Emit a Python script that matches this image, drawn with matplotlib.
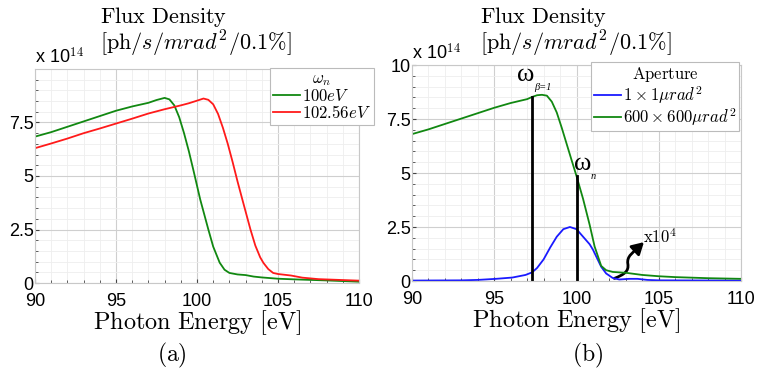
import numpy as np
import matplotlib
matplotlib.use("Agg")
import matplotlib.pyplot as plt
from matplotlib.path import Path
from matplotlib.patches import FancyArrowPatch

plt.rcParams['mathtext.fontset'] = 'cm'
plt.rcParams['font.family'] = ['Liberation Sans', 'DejaVu Sans']

# (a) flux density vs photon energy for two omega_n
e_100 = [90, 91, 92, 93, 94, 95, 96, 97, 97.5, 98.0, 98.3, 98.6, 98.9, 99.2, 99.5, 99.8,
         100.2, 100.45, 100.7, 101.0, 101.4, 101.7, 102.0, 102.5, 103.0, 103.5, 104, 105, 106, 108, 110]
f_100 = [6.84, 7.05, 7.3, 7.55, 7.8, 8.05, 8.25, 8.42, 8.55, 8.65, 8.58, 8.3, 7.75, 7.0, 6.15, 5.2,
         3.9, 3.2, 2.5, 1.7, 0.95, 0.62, 0.47, 0.4, 0.37, 0.3, 0.26, 0.2, 0.17, 0.12, 0.06]

e_10256 = [90, 91, 92, 93, 94, 95, 96, 97, 98, 99, 99.5, 100, 100.4, 100.7, 101.0, 101.3, 101.6,
           101.9, 102.2, 102.5, 102.8, 103.05, 103.3, 103.6, 103.9, 104.1, 104.4, 104.7, 105.0,
           105.8, 106.5, 107.5, 110]
f_10256 = [6.3, 6.52, 6.75, 7.0, 7.22, 7.45, 7.68, 7.92, 8.12, 8.3, 8.4, 8.52, 8.62, 8.56, 8.35, 7.9,
           7.25, 6.5, 5.65, 4.75, 3.9, 3.2, 2.5, 1.75, 1.2, 0.94, 0.65, 0.47, 0.42,
           0.35, 0.25, 0.18, 0.11]

# (b) two apertures
e_big = [90, 91, 92, 93, 94, 95, 96, 97, 97.3, 97.6, 97.9, 98.2, 98.5, 98.8, 99.1, 99.4, 99.7,
         100.0, 100.4, 100.8, 101.1, 101.5, 101.8, 102.2, 103, 104, 105, 106, 108, 110]
f_big = [6.8, 7.02, 7.27, 7.52, 7.77, 8.02, 8.24, 8.42, 8.52, 8.6, 8.62, 8.58, 8.3, 7.8, 7.1, 6.35, 5.6,
         4.86, 3.8, 2.6, 1.6, 0.7, 0.5, 0.42, 0.38, 0.28, 0.22, 0.18, 0.13, 0.1]

e_small = [90, 93, 94, 95.1, 96.1, 96.9, 97.3, 97.6, 98.0, 98.4, 98.8, 99.2, 99.6, 100.0, 100.4,
           100.8, 101.0, 101.5, 101.8, 102.2, 102.6, 103.2, 103.7, 104.3, 105, 110]
f_small = [0.02, 0.03, 0.05, 0.1, 0.16, 0.28, 0.4, 0.6, 1.0, 1.55, 2.05, 2.4, 2.5, 2.4, 2.05,
           1.7, 1.45, 0.66, 0.35, 0.14, 0.07, 0.1, 0.1, 0.05, 0.03, 0.02]

w_beta1 = 97.3
w_n = 100.0

W, H = 758, 378
fig = plt.figure(figsize=(W / 100, H / 100), dpi=100)


def ax_at(x0, x1, ytop, ybot):
    return fig.add_axes([x0 / W, 1 - ybot / H, (x1 - x0) / W, (ybot - ytop) / H])


def style(ax, yticks):
    ax.set_xlim(90, 110)
    ax.set_ylim(0, 10)
    ax.set_xticks([90, 95, 100, 105, 110])
    ax.set_xticks(np.arange(90, 111, 1), minor=True)
    ax.set_yticks(yticks)
    ax.set_yticklabels([f"{v:g}" for v in yticks])
    ax.set_yticks(np.arange(0, 10.01, 0.5), minor=True)
    ax.grid(which='major', color='#cfcfcf', lw=0.8)
    ax.grid(which='minor', color='#eeeeee', lw=0.6)
    ax.set_axisbelow(True)
    for s in ax.spines.values():
        s.set_color('#c8c8c8')
    ax.tick_params(which='both', direction='in', colors='#444444', labelcolor='black',
                   labelsize=13, pad=1)
    ax.tick_params(axis='x', which='major', pad=7)
    ax.tick_params(which='major', length=3)
    ax.tick_params(which='minor', length=2)
    ax.set_xlabel(r'$\mathrm{Photon\ Energy\ [eV]}$', fontsize=17.5, labelpad=-1)


def legend(handles, title, x0, ytop):
    leg = fig.legend(handles=handles, title=title, loc='upper left',
                     bbox_to_anchor=(x0 / W, 1 - ytop / H), bbox_transform=fig.transFigure,
                     fontsize=12, title_fontsize=12, handlelength=1.6, handletextpad=0.1,
                     borderpad=0.2, labelspacing=0.0, borderaxespad=0,
                     fancybox=False, framealpha=1, edgecolor='#bbbbbb')
    leg.get_frame().set_linewidth(0.8)
    return leg


ax1 = ax_at(35, 359, 69, 283)
l1, = ax1.plot(e_100, f_100, color='#118811', lw=1.3, label=r'$100eV$')
l2, = ax1.plot(e_10256, f_10256, color='#ff1a1a', lw=1.3, label=r'$102.56eV$')
style(ax1, [0, 2.5, 5, 7.5])

ax2 = ax_at(412, 741, 65, 281)
l3, = ax2.plot(e_small, f_small, color='#1a1aff', lw=1.3, label=r'$1\times1\mu rad^2$')
l4, = ax2.plot(e_big, f_big, color='#118811', lw=1.3, label=r'$600\times600\mu rad^2$')
style(ax2, [0, 2.5, 5, 7.5, 10])

legend([l1, l2], r'$\omega_n$', 270, 68)
legend([l3, l4], r'$\mathrm{Aperture}$', 591, 62)

# markers for omega_beta=1 and omega_n
ax2.plot([w_beta1, w_beta1], [0, np.interp(w_beta1, e_big, f_big)], color='black', lw=2)
ax2.plot([w_n, w_n], [0, np.interp(w_n, e_big, f_big)], color='black', lw=2)
ax2.text(96.9, 9.55, 'ω', family='Liberation Serif', fontsize=19, ha='center', va='center')
ax2.text(97.45, 8.95, 'β=1', family='Liberation Serif', style='italic', fontsize=7.5,
         ha='left', va='center')
ax2.text(100.4, 5.4, 'ω', family='Liberation Serif', fontsize=19, ha='center', va='center')
ax2.text(100.85, 4.85, 'n', family='Liberation Serif', style='italic', fontsize=7.5,
         ha='left', va='center')

# curly arrow with x10^4
verts = [(102.3, 0.12), (102.9, 0.3), (103.2, 0.45), (103.12, 0.8),
         (103.05, 1.15), (103.4, 1.3), (104.1, 1.8)]
codes = [Path.MOVETO] + [Path.CURVE4] * 6
arr = FancyArrowPatch(path=Path(verts, codes), arrowstyle='-|>,head_length=7,head_width=4',
                      color='black', lw=2, transform=ax2.transData)
ax2.add_patch(arr)
ax2.text(104.05, 2.05, r'$\mathrm{x10^4}$', fontsize=12, ha='left', va='center')

# titles and sci offsets
for x0, xax, ytop in [(100, 35, 69), (480, 412, 65)]:
    fig.text(x0 / W, 1 - 17 / H, r'$\mathrm{Flux\ Density}$', fontsize=16, ha='left', va='center')
    fig.text(x0 / W, 1 - 44 / H, r'$[\mathrm{ph}/s/mrad^2/0.1\%]$', fontsize=16, ha='left', va='center')
    fig.text(xax / W, 1 - (ytop - 2) / H, r'x 10$^{14}$', fontsize=13, ha='left', va='bottom')

fig.text(172 / W, 1 - 355 / H, r'$\mathrm{(a)}$', fontsize=17, ha='center', va='center')
fig.text(588 / W, 1 - 355 / H, r'$\mathrm{(b)}$', fontsize=17, ha='center', va='center')

fig.savefig('out.png', dpi=100)
